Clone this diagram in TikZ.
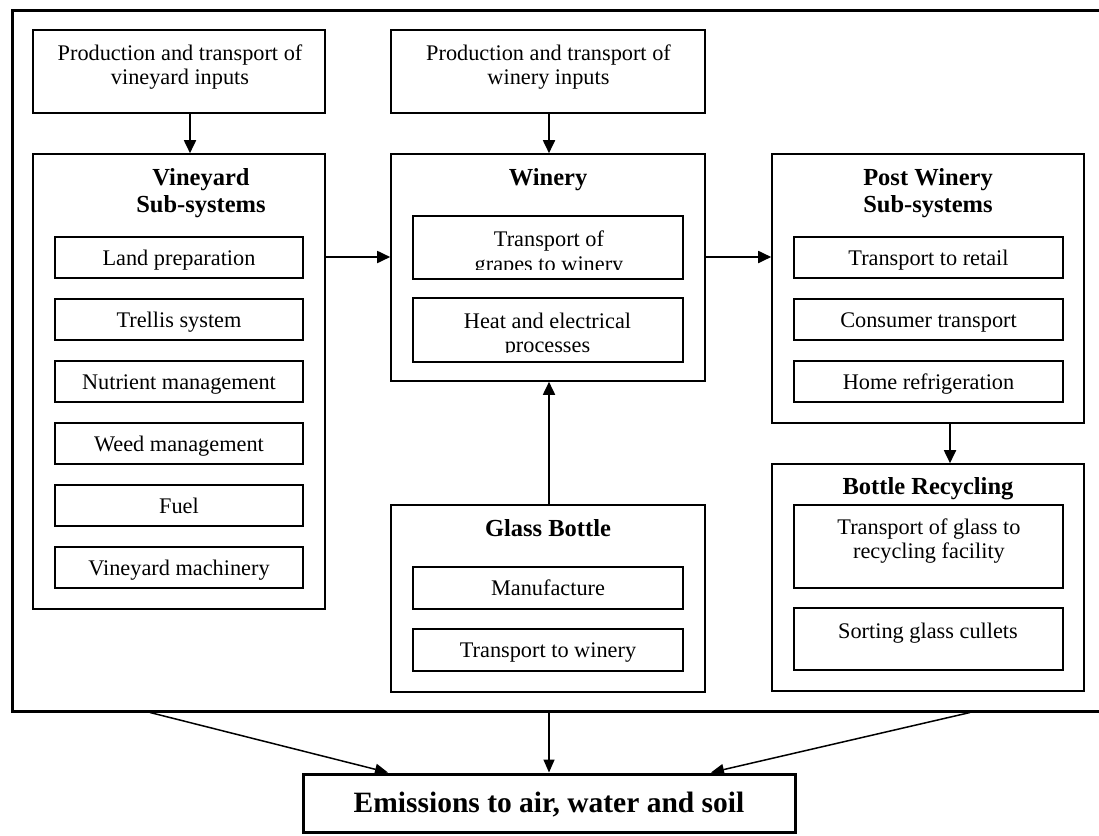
\documentclass[tikz,border=0pt]{standalone}
\usepackage{fontspec}
\setmainfont{Liberation Serif}
\usetikzlibrary{arrows.meta}
\begin{document}
\begin{tikzpicture}[x=1pt,y=-1pt,
  box/.style={draw, line width=1.6pt, inner sep=0pt, anchor=center},
  sub/.style={box, minimum height=41pt, text height=17pt, text depth=2pt, font=\fontsize{22.3}{24.5}\selectfont},
  txt/.style={inner sep=0pt, anchor=base, align=center, font=\fontsize{22.3}{24.5}\selectfont},
  ttl/.style={inner sep=0pt, anchor=base, align=center, font=\bfseries\fontsize{24.5}{27}\selectfont},
  arr/.style={line width=1.8pt, -{Triangle[length=13pt,width=12pt]}},
  earr/.style={line width=1.5pt, -{Triangle[length=13pt,width=11pt]}},
]
\useasboundingbox (0,0) rectangle (1099,835);
\clip (0,0) rectangle (1099,835);

% outer system boundary
\node[draw, line width=3pt, inner sep=0pt, minimum width=1092pt, minimum height=701pt] (outer) at (558,360.5) {};

% input boxes
\node[box, minimum width=292pt, minimum height=83pt] (vin) at (179,71.5) {};
\node[txt] (vinT) at (180,84.5) {Production and transport of\\vineyard inputs};
\node[box, minimum width=314pt, minimum height=83pt] (winin) at (548,71.5) {};
\node[txt] (wininT) at (548.5,84.5) {Production and transport of\\winery inputs};

% vineyard
\node[box, minimum width=292pt, minimum height=455pt] (vine) at (179,381.5) {};
\node[ttl] (vineT) at (201,212) {Vineyard\\Sub-systems};
\node[sub, minimum width=248pt] (v1) at (179,257.5) {Land preparation};
\node[sub, minimum width=248pt] (v2) at (179,319.5) {Trellis system};
\node[sub, minimum width=248pt] (v3) at (179,381.5) {Nutrient management};
\node[sub, minimum width=248pt] (v4) at (179,443.5) {Weed management};
\node[sub, minimum width=248pt] (v5) at (179,505.5) {Fuel};
\node[sub, minimum width=248pt] (v6) at (179,567.5) {Vineyard machinery};

% winery
\node[box, minimum width=314pt, minimum height=227pt] (winery) at (548,267.5) {};
\node[ttl] (wineryT) at (548,185) {Winery};
\node[box, minimum width=270pt, minimum height=63pt] (w1) at (548,247.5) {};
\node[box, minimum width=270pt, minimum height=64pt] (w2) at (548,330) {};
\begin{scope}
  \clip (413,216) rectangle (683,269);
  \node[txt] (w1T) at (549,271) {Transport of\\grapes to winery};
\end{scope}
\begin{scope}
  \clip (413,298) rectangle (683,352);
  \node[txt] (w2T) at (547.5,352.5) {Heat and electrical\\processes};
\end{scope}

% post winery
\node[box, minimum width=312pt, minimum height=269pt] (post) at (928,288.5) {};
\node[ttl] (postT) at (928,212) {Post Winery\\Sub-systems};
\node[sub, minimum width=269pt] (p1) at (928.5,257.5) {Transport to retail};
\node[sub, minimum width=269pt] (p2) at (928.5,319.5) {Consumer transport};
\node[sub, minimum width=269pt] (p3) at (928.5,381.5) {Home refrigeration};

% bottle recycling
\node[box, minimum width=312pt, minimum height=227pt] (recyc) at (928,577.5) {};
\node[ttl] (recycT) at (928,494) {Bottle Recycling};
\node[box, minimum width=269pt, minimum height=83pt] (r1) at (928.5,546.5) {};
\node[txt] (r1T) at (929,558.5) {Transport of glass to\\recycling facility};
\node[box, minimum width=269pt, minimum height=62pt] (r2) at (928.5,639) {};
\node[txt] (r2T) at (928,638) {Sorting glass cullets};

% glass bottle
\node[box, minimum width=314pt, minimum height=187pt] (glass) at (548,598.5) {};
\node[ttl] (glassT) at (548,536) {Glass Bottle};
\node[sub, minimum width=270pt, minimum height=42pt] (g1) at (548,588) {Manufacture};
\node[sub, minimum width=270pt, minimum height=42pt] (g2) at (548,650) {Transport to winery};

% emissions
\node[draw, line width=3pt, inner sep=0pt, minimum width=492pt, minimum height=58pt,
      text height=20pt, text depth=2pt, font=\bfseries\fontsize{29.5}{32}\selectfont] (emis) at (549,803) {Emissions to air, water and soil};

% connectors
\draw[arr] (vin.south -| 190,0) -- (vine.north -| 190,0);
\draw[arr] (winin.south -| 549,0) -- (winery.north -| 549,0);
\draw[arr] (vine.east |- 0,257) -- (winery.west |- 0,257);
\draw[arr] (winery.east |- 0,257) -- (post.west |- 0,257);
\draw[arr] (glass.north -| 549,0) -- (winery.south -| 549,0);
\draw[arr] (post.south -| 950,0) -- (recyc.north -| 950,0);
\draw[earr] (outer.south -| 150,0) -- (emis.north -| 388,0);
\draw[earr] (outer.south -| 549,0) -- (emis.north -| 549,0);
\draw[earr] (outer.south -| 970,0) -- (emis.north -| 711,0);
\end{tikzpicture}
\end{document}
